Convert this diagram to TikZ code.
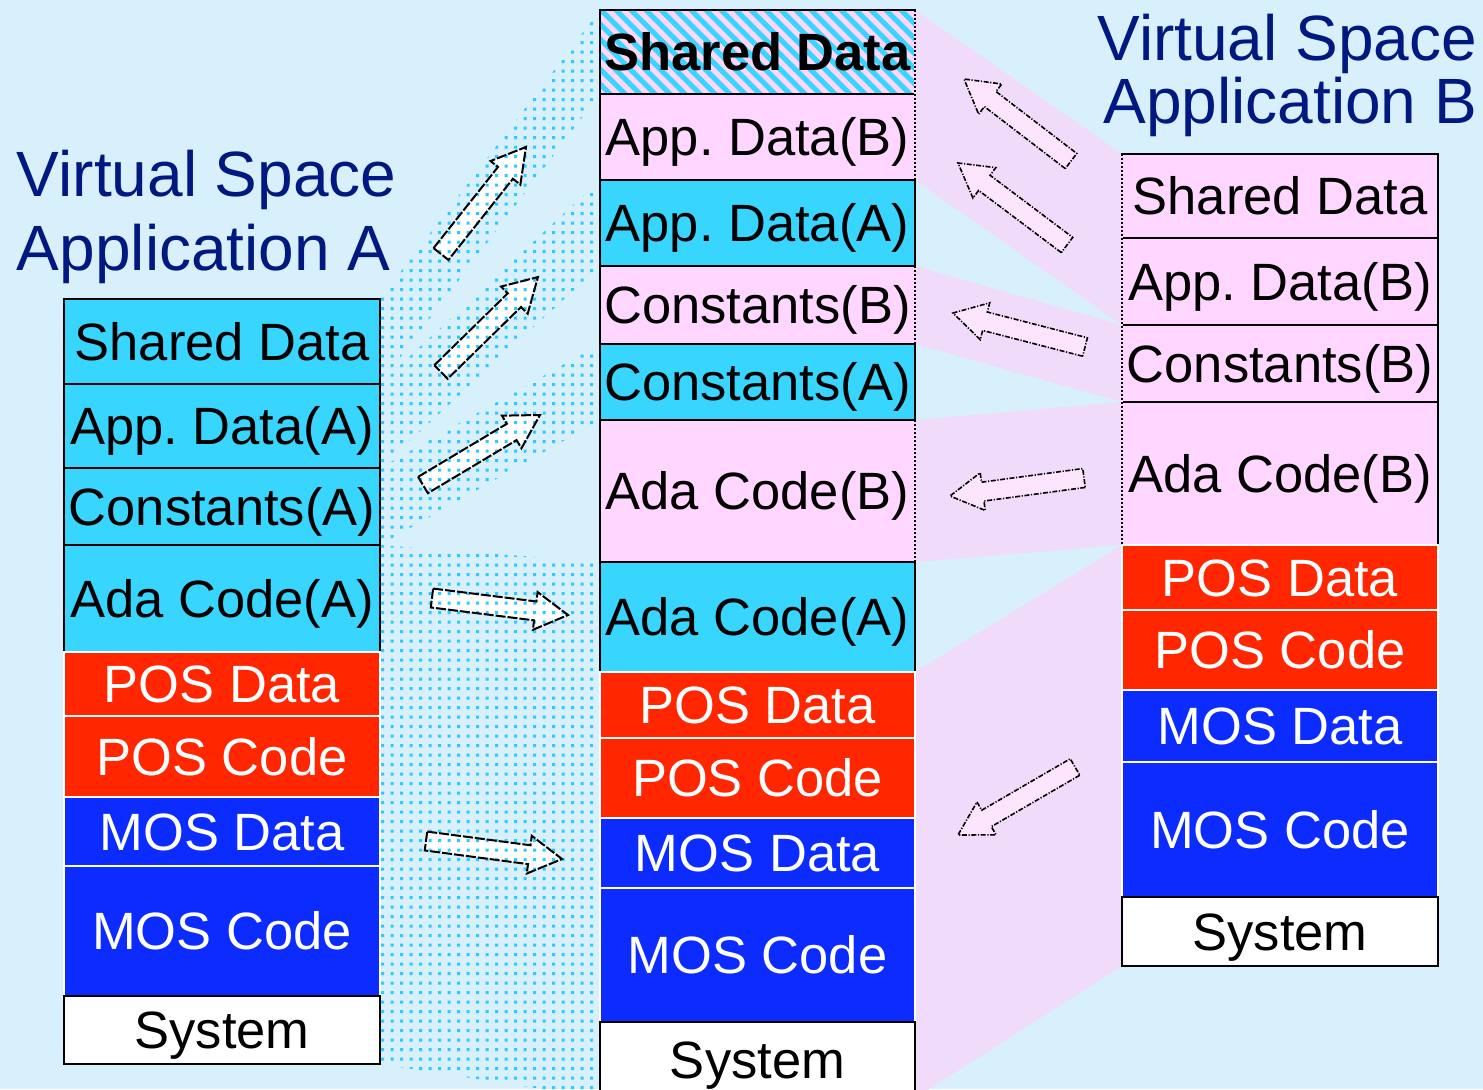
\documentclass[tikz,border=0pt]{standalone}
\usepackage{fontspec}
\setmainfont{Liberation Sans}
\frenchspacing

\definecolor{bg}{RGB}{215,240,252}
\definecolor{cyanbox}{RGB}{56,213,255}
\definecolor{pinkbox}{RGB}{255,214,255}
\definecolor{redbox}{RGB}{255,38,0}
\definecolor{bluebox}{RGB}{12,44,255}
\definecolor{navy}{RGB}{0,24,128}
\definecolor{dotcyan}{RGB}{45,202,255}
\definecolor{pinkband}{RGB}{240,219,250}
\definecolor{arrowpink}{RGB}{253,230,253}

\pgfdeclarelayer{backlayer}
\pgfdeclarelayer{bandlayer}
\pgfsetlayers{backlayer,bandlayer,main}

% corner points bk1..bk7 of a block arrow from tail (#1,#2) to tip (#3,#4), in pixels
\newcommand\arrowpts[4]{%
  \pgfmathsetmacro\bkdx{#3-#1}%
  \pgfmathsetmacro\bkdy{#4-#2}%
  \pgfmathsetmacro\bklen{veclen(\bkdx,\bkdy)}%
  \pgfmathsetmacro\bkang{-atan2(\bkdy,\bkdx)}%
  \pgfmathsetmacro\bkhb{\bklen-33}%
  \begin{scope}[shift={(#1,#2)}, rotate=\bkang]
    \coordinate (bk1) at (0,-9.5);
    \coordinate (bk2) at (\bkhb,-9.5);
    \coordinate (bk3) at (\bkhb,-19);
    \coordinate (bk4) at (\bklen,0);
    \coordinate (bk5) at (\bkhb,19);
    \coordinate (bk6) at (\bkhb,9.5);
    \coordinate (bk7) at (0,9.5);
  \end{scope}}

% left (dotted) block arrow
\newcommand\larrowdraw[4]{%
  \arrowpts{#1}{#2}{#3}{#4}%
  \pgfmathsetmacro\xa{381+9.5*floor((min(#1,#3)-25-381)/9.5)}%
  \pgfmathsetmacro\xb{\xa+9.5}%
  \pgfmathsetmacro\xe{max(#1,#3)+25}%
  \pgfmathsetmacro\ya{3+9.5*floor((min(#2,#4)-25-3)/9.5)}%
  \pgfmathsetmacro\yb{\ya+9.5}%
  \pgfmathsetmacro\ye{max(#2,#4)+25}%
  \begin{scope}
    \clip (bk1) -- (bk2) -- (bk3) -- (bk4) -- (bk5) -- (bk6) -- (bk7) -- cycle;
    \fill[white] (bk1) -- (bk2) -- (bk3) -- (bk4) -- (bk5) -- (bk6) -- (bk7) -- cycle;
    \fill[dotcyan] \foreach \i in {\xa,\xb,...,\xe} {\foreach \j in {\ya,\yb,...,\ye} {(\i,\j) rectangle ++(3,3)}};
  \end{scope}
  \draw[larrow] (bk1) -- (bk2) -- (bk3) -- (bk4) -- (bk5) -- (bk6) -- (bk7) -- cycle;
}

% right (pink) block arrow
\newcommand\rarrowdraw[4]{%
  \arrowpts{#1}{#2}{#3}{#4}%
  \draw[rarrow] (bk1) -- (bk2) -- (bk3) -- (bk4) -- (bk5) -- (bk6) -- (bk7) -- cycle;
}

\tikzset{
  cell/.style={anchor=north west, inner sep=0pt, outer sep=0pt,
    font=\fontsize{26.25pt}{30pt}\selectfont, text height=18.8pt, text depth=0pt},
  boxc/.style={cell, draw=black, line width=1pt, fill=cyanbox, text=black},
  boxp/.style={cell, draw=black, line width=1pt, fill=pinkbox, text=black},
  boxr/.style={cell, draw=white, line width=0.8pt, fill=redbox, text=white},
  boxb/.style={cell, draw=white, line width=0.8pt, fill=bluebox, text=white},
  boxw/.style={cell, draw=black, line width=1pt, fill=white, text=black},
  boxs/.style={cell, draw=black, line width=1pt, text=black,
    font=\fontsize{26.25pt}{30pt}\selectfont\bfseries},
  stripe/.style={cyanbox, line width=2.5pt},
  rband/.style={fill=pinkband},
  edgecover/.style={pinkbox, line width=1.1pt},
  edgedots/.style={black, line width=1pt, dash pattern=on 1pt off 1pt},
  larrow/.style={draw=black, line width=1pt, dash pattern=on 5pt off 1pt, line join=miter},
  rarrow/.style={fill=arrowpink, draw=black, line width=0.8pt,
    dash pattern=on 2.5pt off 0.8pt on 0.6pt off 0.8pt, line join=miter},
  title/.style={inner sep=0pt, outer sep=0pt, text=navy,
    font=\fontsize{32pt}{38pt}\selectfont},
  lw/.style={minimum width=158pt},
  mw/.style={minimum width=157.5pt},
}

\begin{document}
\begin{tikzpicture}[x=0.5pt, y=-0.5pt]
\useasboundingbox (0,0) rectangle (1483,1089);
\begin{pgfonlayer}{backlayer}
\fill[bg] (0,0) rectangle (1483,1089);
\end{pgfonlayer}

% ---------- Left stack (Application A)
\node[boxc, lw, minimum height=42.5pt] (LSD)  at (64,299) {Shared Data};
\node[boxc, lw, minimum height=42pt]   (LAD)  at (64,384) {App. Data(A)};
\node[boxc, lw, minimum height=38.5pt] (LCA)  at (64,468) {Constants(A)};
\node[boxc, lw, minimum height=53.5pt] (LAC)  at (64,545) {Ada Code(A)};
\node[boxr, lw, minimum height=32pt]   (LPD)  at (64,652) {POS Data};
\node[boxr, lw, minimum height=40.5pt] (LPC)  at (64,716) {POS Code};
\node[boxb, lw, minimum height=34.5pt] (LMD)  at (64,797) {MOS Data};
\node[boxb, lw, minimum height=65pt]   (LMC)  at (64,866) {MOS Code};
\node[boxw, lw, minimum height=34pt]   (LSys) at (64,996) {System};

% ---------- Middle stack (physical)
\node[boxs, mw, minimum height=42pt]   (MSD)  at (600,10)  {Shared Data};
\node[boxp, mw, minimum height=43pt]   (MADB) at (600,94)  {App. Data(B)};
\node[boxc, mw, minimum height=43pt]   (MADA) at (600,180) {App. Data(A)};
\node[boxp, mw, minimum height=39pt]   (MCB)  at (600,266) {Constants(B)};
\node[boxc, mw, minimum height=38pt]   (MCA)  at (600,344) {Constants(A)};
\node[boxp, mw, minimum height=71pt]   (MACB) at (600,420) {Ada Code(B)};
\node[boxc, mw, minimum height=55pt]   (MACA) at (600,562) {Ada Code(A)};
\node[boxr, mw, minimum height=33pt]   (MPD)  at (600,672) {POS Data};
\node[boxr, mw, minimum height=40pt]   (MPC)  at (600,738) {POS Code};
\node[boxb, mw, minimum height=35pt]   (MMD)  at (600,818) {MOS Data};
\node[boxb, mw, minimum height=67pt]   (MMC)  at (600,888) {MOS Code};
\node[boxw, mw, minimum height=38pt]   (MSys) at (600,1022) {System};

% ---------- Right stack (Application B)
\node[boxp, lw, minimum height=42pt]   (RSD)  at (1122,154) {Shared Data};
\node[boxp, lw, minimum height=43.5pt] (RADB) at (1122,238) {App. Data(B)};
\node[boxp, lw, minimum height=38.5pt] (RCB)  at (1122,325) {Constants(B)};
\node[boxp, lw, minimum height=71.5pt] (RACB) at (1122,402) {Ada Code(B)};
\node[boxr, lw, minimum height=32.5pt] (RPD)  at (1122,545) {POS Data};
\node[boxr, lw, minimum height=40pt]   (RPC)  at (1122,610) {POS Code};
\node[boxb, lw, minimum height=36pt]   (RMD)  at (1122,690) {MOS Data};
\node[boxb, lw, minimum height=67.5pt] (RMC)  at (1122,762) {MOS Code};
\node[boxw, lw, minimum height=34.5pt] (RSys) at (1122,897) {System};

% ---------- dotted edges where the pink bands meet the stacks
\draw[edgecover] (MSD.north east) -- (MADB.south east);
\draw[edgedots]  (MSD.north east) -- (MADB.south east);
\draw[edgecover] (MCB.north east) -- (MCB.south east);
\draw[edgedots]  (MCB.north east) -- (MCB.south east);
\draw[edgecover] (MACB.north east) -- (MACB.south east);
\draw[edgedots]  (MACB.north east) -- (MACB.south east);
\draw[edgecover] (RSD.north west) -- (RACB.south west);
\draw[edgedots]  (RSD.north west) -- (RACB.south west);

% ---------- mapping bands and shared-data hatching (behind the stacks)
\begin{pgfonlayer}{bandlayer}
\begin{scope}
  \clip (LSD.north east) -- (MSD.north west) -- (MSD.south west) -- (LSD.south east) -- cycle
        (LAD.north east) -- (MADA.north west) -- (MADA.south west) -- (LAD.south east) -- cycle
        (LCA.north east) -- (MCA.north west) -- (MCA.south west) -- (LCA.south east) -- cycle
        (LAC.north east) -- (MACA.north west) -- (MSys.south west) -- (LSys.south east) -- cycle;
  \fill[dotcyan] \foreach \i in {381,390.5,...,600} {\foreach \j in {3,12.5,...,1095} {(\i,\j) rectangle ++(3,3)}};
\end{scope}
\fill[rband] (RSD.north west) -- (MSD.north east) -- (MSD.south east) -- (RSD.south west) -- cycle;
\fill[rband] (RADB.north west) -- (MADB.north east) -- (MADB.south east) -- (RADB.south west) -- cycle;
\fill[rband] (RCB.north west) -- (MCB.north east) -- (MCB.south east) -- (RCB.south west) -- cycle;
\fill[rband] (RACB.north west) -- (MACB.north east) -- (MACB.south east) -- (RACB.south west) -- cycle;
\fill[rband] (RPD.north west) -- (MPD.north east) -- (MSys.south east) -- (RSys.south west) -- cycle;
\fill[pinkbox] (MSD.north west) rectangle (MSD.south east);
\begin{scope}
  \clip (MSD.north west) rectangle (MSD.south east);
  \draw[stripe] \foreach \k in {505,520,...,915} {(\k,4) -- ++(100,100)};
\end{scope}
\end{pgfonlayer}

% ---------- block arrows
\larrowdraw{441}{254}{526}{147}
\larrowdraw{441}{372}{538}{277}
\larrowdraw{423}{485}{540}{415}
\larrowdraw{432}{598}{568}{615}
\larrowdraw{426}{841}{562}{859}
\rarrowdraw{1071}{161}{964}{79}
\rarrowdraw{1067}{245}{958}{163}
\rarrowdraw{1085}{347}{953}{313}
\rarrowdraw{1084}{478}{950}{496}
\rarrowdraw{1075}{767}{958}{835}

% ---------- Titles
\node[title, anchor=base west] (TA1) at (17,196) {Virtual Space};
\node[title, anchor=base west] (TA2) at (17,270) {Application A};
\node[title, anchor=base east] (TB1) at (1477,60) {Virtual Space};
\node[title, anchor=base east] (TB2) at (1477,123) {Application B};
\end{tikzpicture}
\end{document}
